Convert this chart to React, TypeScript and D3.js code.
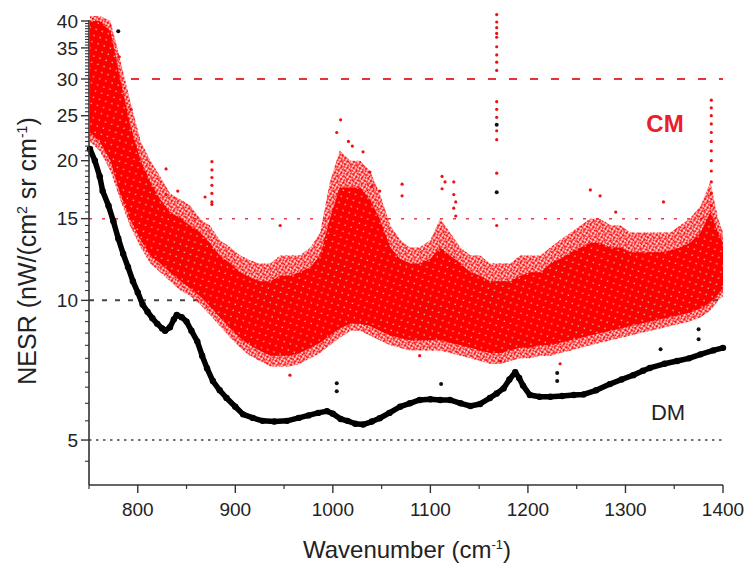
import React from "react";
import * as d3 from "d3";

// ---------- data ----------
// DM (black) spectrum
const dmWave = [751, 756, 761, 764, 770, 775, 780, 785, 790, 795, 800, 805, 810, 815, 820, 825, 828, 833, 837, 840, 845, 850, 855, 861, 866, 871, 877, 884, 891, 900, 908, 918, 928, 940, 953, 965, 975, 985, 994, 1000, 1008, 1015, 1023, 1031, 1040, 1048, 1058, 1069, 1079, 1089, 1100, 1110, 1120, 1131, 1141, 1151, 1161, 1168, 1175, 1181, 1187, 1191, 1195, 1202, 1212, 1223, 1235, 1247, 1257, 1270, 1284, 1296, 1308, 1318, 1325, 1340, 1353, 1365, 1377, 1390, 1400];
const dmValue = [21.2, 20.0, 18.5, 17.2, 16.0, 14.8, 13.6, 12.6, 11.8, 11.0, 10.4, 9.8, 9.45, 9.15, 8.9, 8.7, 8.6, 8.75, 9.1, 9.3, 9.2, 9.0, 8.6, 8.16, 7.6, 7.14, 6.7, 6.4, 6.16, 5.9, 5.68, 5.58, 5.5, 5.48, 5.5, 5.58, 5.65, 5.72, 5.77, 5.7, 5.55, 5.5, 5.42, 5.4, 5.48, 5.57, 5.72, 5.9, 6.0, 6.1, 6.12, 6.1, 6.1, 6.0, 5.92, 5.98, 6.16, 6.3, 6.46, 6.75, 7.0, 6.8, 6.55, 6.25, 6.2, 6.2, 6.22, 6.25, 6.27, 6.4, 6.6, 6.75, 6.9, 7.05, 7.15, 7.3, 7.4, 7.5, 7.65, 7.8, 7.9];
const dmOutWave = [780, 1168, 1168, 1004, 1004, 1111, 1230, 1230, 1336, 1375, 1375];
const dmOutValue = [38, 23.9, 17.1, 6.63, 6.37, 6.6, 6.97, 6.7, 7.85, 8.66, 8.24];

// CM (red) spectrum: envelope of the point cloud (outer = sparse edge, core = dense body)
const cmWave = [751, 761, 772, 782, 792, 803, 813, 823, 833, 844, 854, 864, 874, 884, 895, 905, 915, 925, 936, 946, 956, 966, 977, 987, 997, 1007, 1018, 1028, 1038, 1048, 1059, 1069, 1079, 1089, 1100, 1110, 1120, 1131, 1141, 1151, 1161, 1172, 1182, 1192, 1202, 1213, 1223, 1233, 1244, 1254, 1264, 1274, 1285, 1295, 1305, 1315, 1326, 1336, 1346, 1356, 1366, 1377, 1387, 1395, 1400];
const cmOuterHigh = [41, 41, 40, 33, 27, 22, 20, 18.5, 17, 16.5, 16, 15, 14.5, 13.5, 13, 12.5, 12.2, 12, 12, 12.5, 12.5, 12.5, 13, 14, 18, 21, 20, 20, 19, 17, 14.5, 13.5, 13, 13, 13.5, 15, 14, 13, 12.5, 12.5, 12, 12, 12, 12.5, 12.5, 12.5, 13, 13.5, 14, 14.5, 15, 15, 14.5, 14.5, 14, 14, 14, 14, 14, 14.5, 15, 16, 18, 15, 14];
const cmOuterLow = [22, 21, 19, 16.5, 14.5, 13, 12, 11.5, 11, 10.5, 10.2, 9.8, 9.3, 8.8, 8.3, 7.9, 7.6, 7.4, 7.2, 7.2, 7.2, 7.3, 7.5, 7.7, 8.0, 8.3, 8.6, 8.6, 8.4, 8.2, 8.0, 7.9, 7.8, 7.8, 7.8, 7.8, 7.7, 7.6, 7.5, 7.4, 7.3, 7.3, 7.4, 7.5, 7.5, 7.6, 7.6, 7.7, 7.8, 7.9, 8.0, 8.1, 8.2, 8.3, 8.4, 8.5, 8.6, 8.7, 8.8, 8.9, 9.0, 9.2, 9.5, 10, 10.2];
const cmCoreHigh = [40, 40, 38, 30, 24, 20, 18, 16.5, 15.5, 15, 14.5, 14, 13.3, 12.5, 12, 11.5, 11.2, 11, 11, 11.3, 11.3, 11.5, 11.8, 12.5, 15, 17.5, 17.5, 17.5, 16.5, 15, 13, 12.3, 12, 12, 12.3, 13, 12.5, 12, 11.5, 11.3, 11, 11, 11, 11.3, 11.5, 11.5, 12, 12.3, 12.7, 13, 13.3, 13.3, 13, 13, 12.7, 12.7, 12.7, 12.7, 12.8, 13, 13.3, 14, 15.5, 14, 13.3];
const cmCoreLow = [23, 22, 20, 17, 15, 13.5, 12.5, 12, 11.5, 11, 10.6, 10.2, 9.7, 9.2, 8.7, 8.3, 8.0, 7.8, 7.6, 7.6, 7.6, 7.7, 7.9, 8.1, 8.4, 8.7, 8.9, 8.9, 8.8, 8.6, 8.4, 8.3, 8.2, 8.2, 8.2, 8.2, 8.1, 8.0, 7.9, 7.8, 7.7, 7.7, 7.8, 7.9, 7.9, 8.0, 8.0, 8.1, 8.2, 8.3, 8.4, 8.5, 8.6, 8.7, 8.8, 8.9, 9.0, 9.1, 9.2, 9.3, 9.4, 9.6, 9.9, 10.3, 10.6];
// isolated CM points / spikes
const cmOutWave = [781, 781, 793, 829, 841, 829, 876, 876, 876, 876, 876, 876, 876, 946, 1008, 1020, 1040, 1071, 1071, 1112, 1112, 1124, 1124, 1124, 1168, 1168, 1168, 1168, 1168, 1168, 1168, 1168, 1168, 1168, 1168, 1168, 1168, 1168, 1168, 1168, 1264, 1339, 1388, 1388, 1388, 1388, 1388, 1388, 1388, 1388, 1388, 1388, 1388, 1388, 1388, 1004, 1016, 1031, 1038, 1048, 1115, 1126, 1126, 1274, 1290, 869, 956, 1172, 1233, 1089];
const cmOutValue = [33.5, 28, 25.8, 19.2, 17.2, 16.9, 19.9, 19.1, 18.4, 17.7, 17.0, 16.3, 16.1, 14.5, 24.5, 21.5, 17.6, 17.8, 16.8, 18.5, 17.4, 18.0, 16.9, 15.8, 41.3, 39.8, 38.7, 37.6, 36.9, 35.2, 33.8, 32.6, 31.3, 26.8, 25.8, 24.8, 23.2, 22.2, 18.8, 14.5, 17.3, 16.3, 27, 26, 25, 24, 23, 22, 21, 20, 19, 18, 17, 16, 15, 23, 22, 20.9, 18.9, 17.2, 18, 16.3, 15.2, 16.8, 15.5, 16.7, 6.9, 7.4, 7.3, 7.6];

// reference levels
const cmLevels = [30, 15];
const dmLevels = [10, 5];

// axis ticks
const xTicks = [800, 900, 1000, 1100, 1200, 1300, 1400];
const xMinorTicks = [750, 850, 950, 1050, 1150, 1250, 1350];
const yTicks = [5, 10, 15, 20, 25, 30, 35, 40];
const yMinorTicks = d3.range(4.5, 40, 0.5).filter((v) => !yTicks.includes(v));

const W = 749;
const H = 565;

export default function App() {
  const x = d3.scaleLinear().domain([750, 1400]).range([89, 723]);
  const y = d3.scaleLog().domain([4, 40]).range([485, 21]);

  const bandOuter = d3
    .area<number>()
    .x((_, i) => x(cmWave[i]))
    .y0((_, i) => y(cmOuterLow[i]))
    .y1((_, i) => y(cmOuterHigh[i]))
    .curve(d3.curveLinear);
  const bandCore = d3
    .area<number>()
    .x((_, i) => x(cmWave[i]))
    .y0((_, i) => y(cmCoreLow[i]))
    .y1((_, i) => y(cmCoreHigh[i]))
    .curve(d3.curveLinear);
  const dmLine = d3
    .line<number>()
    .x((_, i) => x(dmWave[i]))
    .y((d) => y(d))
    .curve(d3.curveLinear);

  const font = "'Liberation Sans', Arial, sans-serif";
  const axisColor = "#333";
  const x0 = x.range()[0];
  const x1 = x.range()[1];
  const yBottom = y.range()[0];
  const yTop = y.range()[1];

  return (
    <svg
      width={W}
      height={H}
      style={{ position: "absolute", left: 0, top: 0, background: "#fff" }}
      fontFamily={font}
    >
      <defs>
        <pattern id="speck" width="3" height="3" patternUnits="userSpaceOnUse" patternTransform="rotate(27)">
          <circle cx="1.5" cy="1.5" r="1.15" fill="#ff0000" />
        </pattern>
        <pattern id="speck2" width="4.3" height="4.3" patternUnits="userSpaceOnUse" patternTransform="rotate(-41)">
          <circle cx="2" cy="2" r="1.1" fill="#ff1010" />
        </pattern>
        <pattern id="holes" width="6.5" height="6.5" patternUnits="userSpaceOnUse" patternTransform="rotate(19)">
          <circle cx="3" cy="3" r="0.75" fill="#ffd8d0" />
        </pattern>
      </defs>
      <rect x={0} y={0} width={W} height={H} fill="#fff" />

      {/* reference levels */}
      <line x1={x0} x2={x1} y1={y(cmLevels[0])} y2={y(cmLevels[0])} stroke="#e8333b" strokeWidth={2} strokeDasharray="8,13" />
      <line x1={x0} x2={x1} y1={y(cmLevels[1])} y2={y(cmLevels[1])} stroke="#e0404a" strokeWidth={1.5} strokeDasharray="3,10" />
      <line x1={x0} x2={x1} y1={y(dmLevels[0])} y2={y(dmLevels[0])} stroke="#444" strokeWidth={2} strokeDasharray="5,8" />
      <line x1={x0} x2={x1} y1={y(dmLevels[1])} y2={y(dmLevels[1])} stroke="#444" strokeWidth={1.6} strokeDasharray="2.5,4.5" />

      {/* CM cloud */}
      <path d={bandOuter(cmWave) || ""} fill="url(#speck)" />
      <path d={bandOuter(cmWave) || ""} fill="url(#speck2)" />
      <path d={bandCore(cmWave) || ""} fill="#ff0000" />
      <path d={bandCore(cmWave) || ""} fill="url(#holes)" />
      {cmOutWave.map((w, i) => (
        <circle key={"cm" + i} cx={x(w)} cy={y(cmOutValue[i])} r={1.6} fill="#ee1111" />
      ))}

      {/* DM curve */}
      <path d={dmLine(dmValue) || ""} fill="none" stroke="#000" strokeWidth={5.5} strokeLinejoin="round" />
      {dmWave.map((w, i) => (
        <circle key={"dm" + i} cx={x(w)} cy={y(dmValue[i])} r={3.2} fill="#000" />
      ))}
      {dmOutWave.map((w, i) => (
        <circle key={"dmo" + i} cx={x(w)} cy={y(dmOutValue[i])} r={2} fill="#111" />
      ))}

      {/* axes */}
      <line x1={x0} x2={x0} y1={yTop - 1} y2={yBottom} stroke={axisColor} strokeWidth={1.6} />
      <line x1={x0} x2={x1} y1={yBottom} y2={yBottom} stroke={axisColor} strokeWidth={1.6} />
      {yTicks.map((t) => (
        <g key={"yt" + t}>
          <line x1={x0 - 8} x2={x0} y1={y(t)} y2={y(t)} stroke={axisColor} strokeWidth={1.4} />
          <text x={x0 - 11} y={y(t)} dy="0.35em" textAnchor="end" fontSize={19} fill="#222">
            {t}
          </text>
        </g>
      ))}
      {yMinorTicks.map((t) => (
        <line key={"ym" + t} x1={x0 - 4} x2={x0} y1={y(t)} y2={y(t)} stroke={axisColor} strokeWidth={1.1} />
      ))}
      {xTicks.map((t) => (
        <g key={"xt" + t}>
          <line x1={x(t)} x2={x(t)} y1={yBottom} y2={yBottom + 8} stroke={axisColor} strokeWidth={1.4} />
          <text x={x(t)} y={yBottom + 31} textAnchor="middle" fontSize={19} fill="#222">
            {t}
          </text>
        </g>
      ))}
      {xMinorTicks.map((t) => (
        <line key={"xm" + t} x1={x(t)} x2={x(t)} y1={yBottom} y2={yBottom + 4} stroke={axisColor} strokeWidth={1.2} />
      ))}

      {/* axis titles */}
      <text x={407} y={558} textAnchor="middle" fontSize={24} fill="#222">
        Wavenumber (cm<tspan dy="-9" fontSize={13}>-1</tspan>
        <tspan dy="9">)</tspan>
      </text>
      <text transform={`translate(36, ${251}) rotate(-90)`} textAnchor="middle" fontSize={25} fill="#222">
        NESR (nW/(cm<tspan dy="-9" fontSize={14}>2</tspan>
        <tspan dy="9"> sr cm</tspan>
        <tspan dy="-9" fontSize={14}>-1</tspan>
        <tspan dy="9">)</tspan>
      </text>

      {/* labels */}
      <text x={665} y={132} textAnchor="middle" fontSize={24} fontWeight="bold" fill="#e8202a">
        CM
      </text>
      <text x={668} y={420} textAnchor="middle" fontSize={22} fill="#222">
        DM
      </text>
    </svg>
  );
}
